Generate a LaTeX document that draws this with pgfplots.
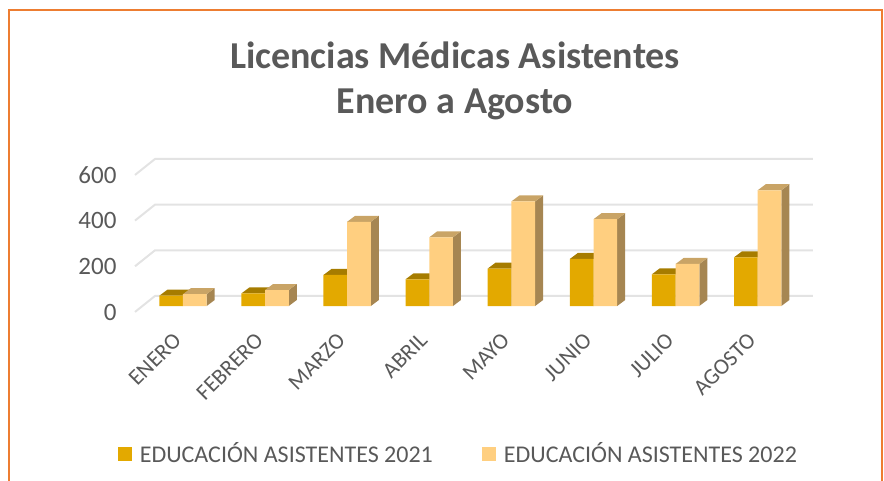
\documentclass[border=0pt]{standalone}
\usepackage{fontspec}
\setmainfont{Carlito}
\usepackage{pgfplots}
\usepackage{pgfplotstable}
\pgfplotsset{compat=1.18}

\definecolor{txt}{HTML}{595959}
\definecolor{gridc}{HTML}{E3E3E3}
\definecolor{frameo}{HTML}{ED7D31}
\definecolor{fronta}{HTML}{E3A900}
\definecolor{topa}{HTML}{A67C00}
\definecolor{frontb}{HTML}{FFCF80}
\definecolor{topb}{HTML}{C9A466}
\definecolor{sideb}{HTML}{A68652}

\pgfplotstableread{
i a   b
0 45  52
1 55  70
2 136 369
3 117 301
4 164 458
5 206 380
6 139 184
7 213 507
}\licencias

% depth of a bar in axis units: 8 px across, 6 px up
\newcommand{\dx}{0.0974}
\newcommand{\dy}{26.3}
\newcommand{\halfw}{0.2887}

% top and side faces of one bar (index, column, left offset, top colour, side colour)
\newcommand{\barfaces}[5]{%
  \pgfplotstablegetelem{#1}{#2}\of\licencias
  \pgfmathsetmacro{\vv}{\pgfplotsretval}%
  \pgfmathsetmacro{\xa}{#1+#3}%
  \pgfmathsetmacro{\xb}{\xa+\halfw}%
  \pgfmathsetmacro{\xc}{\xa+\dx}%
  \pgfmathsetmacro{\xd}{\xb+\dx}%
  \pgfmathsetmacro{\vt}{\vv+\dy}%
  \edef\tmp{\noexpand\addplot[fill=#5,draw=none,forget plot] coordinates {(\xb,0)(\xd,\dy)(\xd,\vt)(\xb,\vv)} --cycle;
    \noexpand\addplot[fill=#4,draw=none,forget plot] coordinates {(\xa,\vv)(\xb,\vv)(\xd,\vt)(\xc,\vt)} --cycle;}%
  \tmp
}
\newcommand{\wall}[1]{%
  \pgfmathsetmacro{\wf}{#1-26}\pgfmathsetmacro{\wb}{#1+44}%
  \edef\tmp{\noexpand\addplot[gridc,line width=2pt,forget plot] coordinates {(-0.5846,\wf)(-0.3410,\wb)(7.673,\wb)};}%
  \tmp
}

\begin{document}
\begin{tikzpicture}[x=1pt,y=1pt]
  \useasboundingbox (0,0) rectangle (884,481);
  \draw[frameo,line width=2pt] (9,0) -- (9,471) -- (882,471) -- (882,0);
  \begin{axis}[
    at={(135pt,169.06pt)}, anchor=south west,
    x=82.1pt, y=0.2283pt,
    xmin=-0.5846, xmax=7.673,
    ymin=-26, ymax=644,
    clip=false,
    axis line style={draw=none},
    major tick length=0pt,
    xtick={0,...,7},
    xticklabels={ENERO,FEBRERO,MARZO,ABRIL,MAYO,JUNIO,JULIO,AGOSTO},
    ytick={0,200,400,600},
    ytick pos=left, xtick pos=bottom,
    /pgf/number format/assume math mode=true,
    tick label style={font=\fontsize{25}{27}\selectfont,text=txt},
    yticklabel style={anchor=east,xshift=-15pt,yshift=-6pt},
    xticklabel style={font=\fontsize{22.5}{24}\selectfont,rotate=45,anchor=north east,xshift=-18.3pt,yshift=-2.7pt},
    title={Licencias Médicas Asistentes\\Enero a Agosto},
    title style={align=center,font=\fontsize{38}{45}\selectfont\bfseries,text=txt,
      at={(rel axis cs:0.472,1.47)},anchor=center},
    legend columns=2,
    legend style={draw=none,fill=none,
      at={(rel axis cs:0.477,-0.926)},anchor=center,
      font=\fontsize{24}{26}\selectfont,text=txt,
      /tikz/every even column/.append style={column sep=47pt}},
    legend image code/.code={\fill[#1] (0pt,-7pt) rectangle (14pt,7pt);\path (0pt,0pt) (20pt,0pt);},
  ]
    \wall{0}\wall{200}\wall{400}\wall{600}
    \pgfplotsinvokeforeach{0,...,7}{\barfaces{#1}{a}{-0.2887}{topa}{topa}}
    \pgfplotsinvokeforeach{0,...,7}{\barfaces{#1}{b}{0}{topb}{sideb}}
    \addplot[ybar,bar width=23.7pt,bar shift=-11.85pt,fill=fronta,draw=none] table[x=i,y=a] {\licencias};
    \addlegendentry{EDUCACIÓN ASISTENTES 2021}
    \addplot[ybar,bar width=23.7pt,bar shift=11.85pt,fill=frontb,draw=none] table[x=i,y=b] {\licencias};
    \addlegendentry{EDUCACIÓN ASISTENTES 2022}
  \end{axis}
\end{tikzpicture}
\end{document}
